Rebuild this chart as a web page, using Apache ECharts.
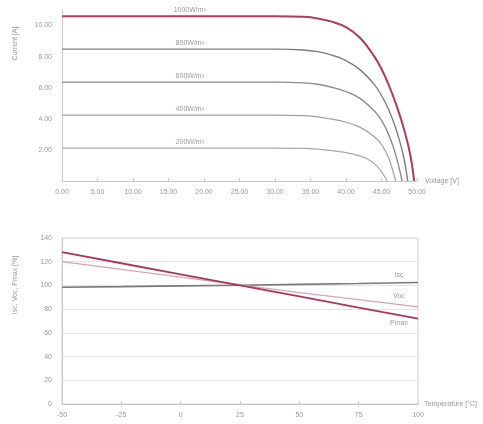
<!DOCTYPE html>
<html>
<head>
<meta charset="utf-8">
<script src="https://cdn.jsdelivr.net/npm/echarts@6/dist/echarts.min.js"></script>
<style>
html,body{margin:0;padding:0;background:#fff;}
#chart{width:483px;height:424px;}
</style>
</head>
<body>
<div id="chart"></div>
<script>
// I-V curves, [voltage V, current A]
const ivNames = ['1000W/m²', '800W/m²', '600W/m²', '400W/m²', '200W/m²'];
const iv1000 = [[0,10.6],[30,10.6],[34,10.56],[36,10.46],[38,10.25],[40,9.9],[42,9.2],[44,8.0],[45,7.2],[46,6.2],[47,5.0],[48,3.6],[49,1.8],[49.6,0]];
const iv800 = [[0,8.48],[30,8.48],[34,8.43],[36,8.32],[38,8.1],[40,7.75],[42,7.15],[44,6.2],[45,5.5],[46,4.6],[47,3.4],[48,1.8],[48.7,0]];
const iv600 = [[0,6.36],[30,6.36],[34,6.31],[36,6.22],[38,6.03],[40,5.75],[42,5.3],[44,4.5],[45,3.9],[46,3.0],[47,1.7],[47.9,0]];
const iv400 = [[0,4.24],[30,4.24],[34,4.2],[36,4.13],[38,3.98],[40,3.78],[42,3.45],[44,2.85],[45,2.35],[46,1.5],[47.0,0]];
const iv200 = [[0,2.12],[30,2.12],[34,2.1],[36,2.05],[38,1.96],[40,1.82],[42,1.6],[43,1.42],[44,1.12],[45,0.6],[45.8,0]];
const labelVoltage = 18;

// temperature dependence, % of STC value
const temps = [-50, -25, 0, 25, 50, 75, 100];
const iscPct = [98.5, 99.0, 99.6, 100.2, 100.9, 101.6, 102.5];
const vocPct = [120, 113.5, 107, 100.5, 94, 88, 82];
const pmaxPct = [128, 118.7, 109.3, 100, 90.7, 81.3, 72];
const tempNames = ['Isc', 'Voc', 'Pmax'];

const chart = echarts.init(document.getElementById('chart'));

const txt = '#999999';
const axisLine = {onZero: false, lineStyle: {color: '#c8c8c8'}};
const font = {fontFamily: 'Liberation Sans', fontSize: 7, color: txt};

function ivSeries(name, data, color, width){
    return {
        name: name, type: 'line', xAxisIndex: 0, yAxisIndex: 0,
        data: data, showSymbol: false, smooth: 0.4,
        lineStyle: {color: color, width: width},
        markPoint: {
            symbol: 'circle', symbolSize: 1,
            itemStyle: {color: 'rgba(0,0,0,0)'},
            label: Object.assign({show: true, position: 'top', distance: 2, formatter: name}, font),
            data: [{coord: [labelVoltage, data[0][1]]}]
        }
    };
}

function pctSeries(name, data, color, width, pos){
    return {
        name: name, type: 'line', xAxisIndex: 1, yAxisIndex: 1,
        data: temps.map((t, i) => [t, data[i]]), showSymbol: false,
        lineStyle: {color: color, width: width},
        markPoint: {
            symbol: 'circle', symbolSize: 1,
            itemStyle: {color: 'rgba(0,0,0,0)'},
            label: Object.assign({show: true, position: pos, distance: 4, formatter: name}, font),
            data: [{coord: [92, data[6] + (data[5] - data[6]) * 8 / 25]}]
        }
    };
}

chart.setOption({
    animation: false,
    grid: [
        {left: 62, right: 66, top: 10, height: 171},
        {left: 62, right: 65, top: 238, bottom: 20, show: true, borderColor: '#d0d0d0', borderWidth: 1}
    ],
    xAxis: [
        {
            gridIndex: 0, type: 'value', min: 0, max: 50, interval: 5,
            name: 'Voltage [V]', nameLocation: 'end', nameGap: 8, nameTextStyle: font,
            axisLine: axisLine, axisTick: {show: true, inside: true, length: 3, lineStyle: {color: '#c8c8c8'}},
            axisLabel: Object.assign({formatter: v => v.toFixed(2), margin: 8}, font),
            splitLine: {show: false}
        },
        {
            gridIndex: 1, type: 'value', min: -50, max: 100, interval: 25,
            name: 'Temperature [°C]', nameLocation: 'end', nameGap: 6, nameTextStyle: font,
            axisLine: axisLine, axisTick: {show: true, inside: true, length: 3, lineStyle: {color: '#c8c8c8'}},
            axisLabel: Object.assign({margin: 8}, font),
            splitLine: {show: false}
        }
    ],
    yAxis: [
        {
            gridIndex: 0, type: 'value', min: 0, max: 11, interval: 2,
            name: 'Current [A]', nameLocation: 'middle', nameRotate: 90, nameGap: 43,
            nameTextStyle: Object.assign({padding: [0, 0, 0, 104]}, font),
            axisLine: {show: true, onZero: false, lineStyle: {color: '#c8c8c8'}}, axisTick: {show: false},
            axisLabel: Object.assign({formatter: v => v.toFixed(2), showMinLabel: false, showMaxLabel: false, margin: 10}, font),
            splitLine: {show: false}
        },
        {
            gridIndex: 1, type: 'value', min: 0, max: 140, interval: 20,
            name: 'Isc, Voc, Pmax [%]', nameLocation: 'middle', nameRotate: 90, nameGap: 43,
            nameTextStyle: Object.assign({padding: [0, 0, 0, 72]}, font),
            axisLine: {show: true, onZero: false, lineStyle: {color: '#c8c8c8'}}, axisTick: {show: false},
            axisLabel: Object.assign({margin: 10}, font),
            splitLine: {show: true, lineStyle: {color: '#e4e4e4'}}
        }
    ],
    series: [
        ivSeries(ivNames[4], iv200, '#a8a8a8', 1.2),
        ivSeries(ivNames[3], iv400, '#a0a0a0', 1.2),
        ivSeries(ivNames[2], iv600, '#8c8c8c', 1.4),
        ivSeries(ivNames[1], iv800, '#7d7d7d', 1.4),
        ivSeries(ivNames[0], iv1000, '#b23a5c', 2),
        pctSeries(tempNames[0], iscPct, '#7a7a7a', 1.6, 'top'),
        pctSeries(tempNames[1], vocPct, '#d9a3b3', 1.3, 'top'),
        pctSeries(tempNames[2], pmaxPct, '#a8385a', 1.8, 'bottom')
    ]
});
</script>
</body>
</html>
